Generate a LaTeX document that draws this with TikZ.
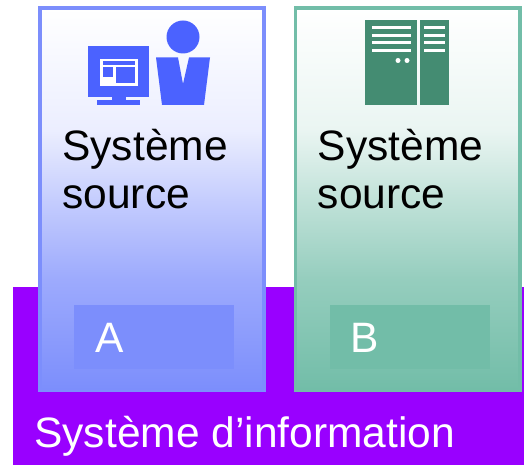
\documentclass[tikz,border=0pt]{standalone}
\usepackage{fontspec}
\setmainfont{Liberation Sans}
\definecolor{sisviolet}{HTML}{9900FF}
\definecolor{sisblue}{HTML}{7C8EFC}
\definecolor{sisicon}{HTML}{4B62FF}
\definecolor{sisgreen}{HTML}{72BDA8}
\definecolor{sisserver}{HTML}{448C72}
\pgfdeclareverticalshading{shadesisblue}{100bp}{
  color(0bp)=(sisblue); color(25bp)=(sisblue); color(39.5bp)=(sisblue!75!white);
  color(50bp)=(sisblue!44!white); color(59bp)=(sisblue!15!white);
  color(75bp)=(white); color(100bp)=(white)}
\pgfdeclareverticalshading{shadesisgreen}{100bp}{
  color(0bp)=(sisgreen); color(25bp)=(sisgreen); color(39.5bp)=(sisgreen!75!white);
  color(50bp)=(sisgreen!44!white); color(59bp)=(sisgreen!15!white);
  color(75bp)=(white); color(100bp)=(white)}
\begin{document}
\begin{tikzpicture}[x=0.02cm,y=-0.02cm,
    label text/.style={anchor=base west,inner sep=0pt,align=left,
      font=\fontsize{24.2}{27.8}\selectfont}]
  % One unit is one pixel of the reference, y pointing down.
  \useasboundingbox (0,0) rectangle (524,465);

  % Violet band behind the two boxes
  \fill[sisviolet] (13,287) rectangle (524,465);
  \node[label text,text=white] (info) at (34,448) {Système d’information};

  % A helper command that draws one source box:
  % #1 = colour, #2 = x shift, #3 = letter
  \def\drawSource#1#2#3{
    \begin{scope}[xshift=#2*0.02cm]
      \draw[line width=2.27pt,draw=#1,shade,shading=shade#1]
        (40,8) rectangle (264,390);
      \fill[#1] (74,305) rectangle (234,369);
      \node[label text] (source#3) at (62,209) {Système\\source};
      \node[label text,text=white] (letter#3) at (95,353) {#3};
    \end{scope}
  }

  \drawSource{sisblue}{0}{A}
  \drawSource{sisgreen}{255.5}{B}

  % Screen and person above box A
  \fill[sisicon] (88,46) rectangle (149,97);
  \fill[sisicon] (112,97) rectangle (126,100);
  \fill[sisicon] (97,100) rectangle (140,105);
  \fill[white] (100,59) rectangle (138,86);
  \fill[sisicon] (103,61) rectangle (135,65);
  \fill[sisicon] (103,67) rectangle (113,77);
  \fill[sisicon] (116,67) rectangle (135,83);
  \fill[sisicon] (183,37) circle (16.5);
  \fill[sisicon] (156,57.5) -- (178,57.5) -- (183,84) -- (189,57.5)
    -- (210,57.5) -- (204,105) -- (162,105) -- cycle;

  % Server above box B
  \fill[sisserver] (365,20) rectangle (417,105);
  \fill[sisserver] (420,20) rectangle (449,105);
  \foreach \y in {28,35.5,43,50.5} {
    \fill[white] (372,\y-1.5) rectangle (411,\y+1.5);
    \fill[white] (424,\y-1.5) rectangle (445,\y+1.5);
  }
  \fill[white] (398,60.5) circle (2.5);
  \fill[white] (407,60.5) circle (2.5);
\end{tikzpicture}
\end{document}
